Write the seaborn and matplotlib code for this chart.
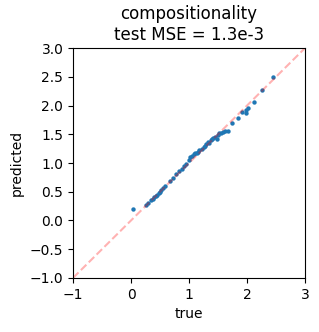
import numpy as np
import pandas as pd
import matplotlib
matplotlib.use("Agg")
import matplotlib.pyplot as plt
import seaborn as sns

true_vals = [0.03, 0.25, 0.30, 0.35, 0.38, 0.40, 0.43, 0.45, 0.48, 0.50,
             0.52, 0.55, 0.58, 0.68, 0.72, 0.78, 0.82, 0.88, 0.92, 0.95,
             1.00, 1.02, 1.05, 1.08, 1.10, 1.13, 1.15, 1.18, 1.22, 1.25,
             1.28, 1.30, 1.33, 1.35, 1.38, 1.40, 1.42, 1.45, 1.48, 1.50,
             1.52, 1.55, 1.58, 1.62, 1.67, 1.74, 1.84, 1.91, 1.98, 1.98,
             2.02, 2.12, 2.26, 2.45]
pred_vals = [0.20, 0.27, 0.31, 0.35, 0.37, 0.40, 0.42, 0.44, 0.47, 0.50,
             0.53, 0.56, 0.60, 0.68, 0.74, 0.80, 0.86, 0.90, 0.94, 0.98,
             1.05, 1.10, 1.12, 1.15, 1.17, 1.18, 1.20, 1.22, 1.25, 1.28,
             1.30, 1.33, 1.36, 1.35, 1.40, 1.42, 1.44, 1.45, 1.42, 1.48,
             1.52, 1.52, 1.54, 1.56, 1.56, 1.70, 1.78, 1.89, 1.92, 1.87,
             1.96, 2.06, 2.27, 2.50]
lims = [-1, 3]

df = pd.DataFrame({"true": true_vals, "predicted": pred_vals})

fig = plt.figure(figsize=(3.19, 3.32), dpi=100)
ax = fig.add_axes([0.229, 0.163, 0.727, 0.692])
ax.plot(lims, lims, color="red", linestyle="--", alpha=0.3)
sns.scatterplot(data=df, x="true", y="predicted", s=10, linewidth=0, ax=ax)
ax.set_xlim(lims)
ax.set_ylim(lims)
ax.set_xticks([-1, 0, 1, 2, 3])
ax.set_yticks(np.arange(-1, 3.01, 0.5))
ax.set_title("compositionality\ntest MSE = 1.3e-3")
plt.savefig("out.png", dpi=100)
